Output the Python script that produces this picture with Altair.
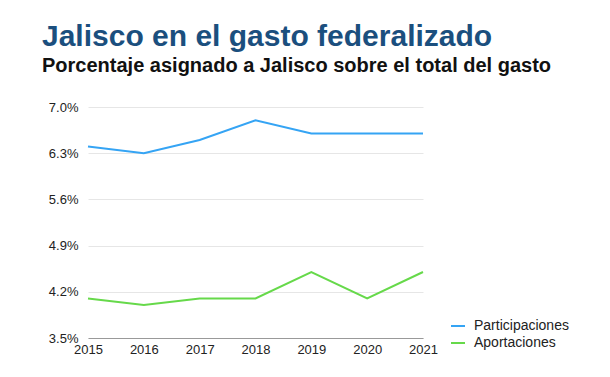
import altair as alt
import pandas as pd

years = [2015, 2016, 2017, 2018, 2019, 2020, 2021]
participaciones = [6.4, 6.3, 6.5, 6.8, 6.6, 6.6, 6.6]
aportaciones = [4.1, 4.0, 4.1, 4.1, 4.5, 4.1, 4.5]
series_names = ["Participaciones", "Aportaciones"]
series_colors = ["#35a4f4", "#66d94a"]
y_ticks = [3.5, 4.2, 4.9, 5.6, 6.3, 7.0]

rows = []
for y, v in zip(years, participaciones):
    rows.append({"year": y, "value": v, "serie": series_names[0]})
for y, v in zip(years, aportaciones):
    rows.append({"year": y, "value": v, "serie": series_names[1]})
df = pd.DataFrame(rows)

FONT = "Liberation Sans"

chart = alt.Chart(df).mark_line(strokeWidth=2).encode(
    x=alt.X("year:Q",
            scale=alt.Scale(domain=[2015, 2021], nice=False, zero=False),
            axis=alt.Axis(values=years, format="d", title=None, grid=False,
                          ticks=False, domain=True, domainColor="#999999",
                          labelPadding=5, labelFontSize=13, labelColor="#222222",
                          labelFont=FONT, labelFlush=False)),
    y=alt.Y("value:Q",
            scale=alt.Scale(domain=[3.5, 7.0], nice=False, zero=False),
            axis=alt.Axis(values=y_ticks, labelExpr="format(datum.value, '.1f') + '%'",
                          title=None, ticks=False, domain=False, gridColor="#e6e6e6",
                          labelPadding=10, labelFontSize=13, labelColor="#222222",
                          labelFont=FONT)),
    color=alt.Color("serie:N",
                    scale=alt.Scale(domain=series_names, range=series_colors),
                    legend=alt.Legend(title=None, orient="none", legendX=362, legendY=211,
                                      symbolType="stroke", symbolSize=196,
                                      symbolStrokeWidth=2, labelFontSize=14,
                                      labelFont=FONT, labelColor="#222222",
                                      rowPadding=2, labelOffset=8)),
).properties(
    width=335,
    height=231,
    title=alt.TitleParams(
        text="Jalisco en el gasto federalizado",
        subtitle="Porcentaje asignado a Jalisco sobre el total del gasto",
        anchor="start", frame="group", dx=-46, offset=25,
        font=FONT, fontSize=30, fontWeight="bold", color="#1b4f7e",
        subtitleFont=FONT, subtitleFontSize=20, subtitleFontWeight="bold",
        subtitleColor="#111111", subtitlePadding=4,
    ),
    autosize=alt.AutoSizeParams(type="none"),
    padding={"left": 80, "top": 99, "right": 170, "bottom": 25},
).configure_view(stroke=None)

chart.save("out.html", embed_options={"renderer": "svg", "actions": False})
